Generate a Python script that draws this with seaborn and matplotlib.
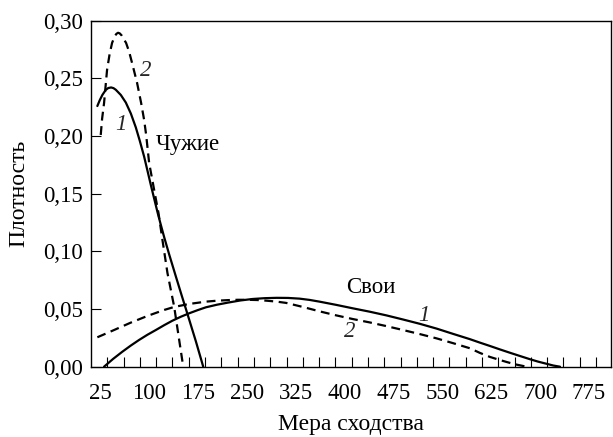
import numpy as np
import pandas as pd
import matplotlib
matplotlib.use("Agg")
import matplotlib.pyplot as plt
import seaborn as sns
from matplotlib.transforms import ScaledTranslation

# ---- data ----
# "Чужие" curve 1 (solid)
alien1_x = [9.7, 13.5, 17.4, 22.6, 26.5, 30.8, 34.5, 38.0, 45.7, 53.4, 61.1, 68.7, 75.0,
            81.5, 87.0, 91.8, 97.0, 102.0, 107.0, 112.3, 120.0, 130.2, 139.0, 148.1,
            161.0, 172.2]
alien1_y = [0.2260, 0.2312, 0.2356, 0.2400, 0.2416, 0.2421, 0.2415, 0.2401, 0.2356,
            0.2290, 0.2195, 0.2075, 0.1955, 0.1821, 0.1690, 0.1575, 0.1455, 0.1340,
            0.1232, 0.1122, 0.0972, 0.0782, 0.0620, 0.0455, 0.0218, 0.0]
# "Чужие" curve 2 (dashed)
alien2_x = [14.9, 17.0, 20.0, 24.6, 28.5, 32.3, 36.5, 39.0, 41.5, 44.0, 47.0, 53.8,
            58.5, 63.0, 70.7, 76.9, 81.5, 84.6, 89.2, 96.9, 103.5, 109.6, 117.3,
            127.6, 135.3, 141.5]
alien2_y = [0.2009, 0.2150, 0.2286, 0.2573, 0.2710, 0.2807, 0.2866, 0.2886, 0.2895,
            0.2890, 0.2872, 0.2807, 0.2730, 0.2633, 0.2460, 0.2286, 0.2139, 0.2009,
            0.1766, 0.1532, 0.1333, 0.1099, 0.0812, 0.0520, 0.0231, 0.0]
# "Свои" curve 1 (solid)
own1_x = [20.0, 34.0, 48.1, 61.0, 73.8, 86.6, 99.5, 112.3, 125.0, 137.8, 150.7, 163.5,
          176.4, 193.0, 209.6, 229.0, 248.0, 266.5, 285.0, 302.5, 320.0, 335.3, 350.6,
          376.2, 401.8, 427.5, 453.1, 478.2, 504.4, 530.5, 555.9, 581.3, 596.6, 612.0,
          627.4, 642.8, 658.1, 673.5, 686.0, 699.2, 709.5, 719.7]
own1_y = [0.0, 0.0068, 0.0130, 0.0183, 0.0232, 0.0277, 0.0318, 0.0360, 0.0399, 0.0433,
          0.0463, 0.0490, 0.0515, 0.0537, 0.0555, 0.0574, 0.0587, 0.0594, 0.0597,
          0.0596, 0.0590, 0.0579, 0.0564, 0.0536, 0.0506, 0.0477, 0.0445, 0.0410,
          0.0372, 0.0330, 0.0284, 0.0239, 0.0209, 0.0180, 0.0150, 0.0121, 0.0093,
          0.0065, 0.0044, 0.0025, 0.0010, 0.0]
# "Свои" curve 2 (dashed)
own2_x = [9.7, 35.4, 61.0, 86.6, 112.3, 127.6, 150.7, 176.4, 193.0, 209.6, 225.0,
          240.0, 255.0, 270.0, 285.0, 299.4, 325.0, 350.6, 376.2, 401.8, 427.5, 453.1,
          478.7, 504.4, 530.0, 555.6, 581.3, 596.6, 612.0, 625.0, 637.7, 650.5, 663.2,
          669.0]
own2_y = [0.0255, 0.0318, 0.0382, 0.0440, 0.0492, 0.0518, 0.0544, 0.0564, 0.0572,
          0.0577, 0.0580, 0.0580, 0.0578, 0.0572, 0.0564, 0.0553, 0.0518, 0.0480,
          0.0445, 0.0413, 0.0384, 0.0352, 0.0318, 0.0283, 0.0246, 0.0204, 0.0160,
          0.0120, 0.0085, 0.0062, 0.0041, 0.0021, 0.0006, 0.0]

xtick_values = [25, 100, 175, 250, 325, 400, 475, 550, 625, 700, 775]
ytick_values = [0.00, 0.05, 0.10, 0.15, 0.20, 0.25, 0.30]
ytick_labels = ["0,00", "0,05", "0,10", "0,15", "0,20", "0,25", "0,30"]

# ---- style ----
sns.set_theme(style="white")
plt.rcParams["font.family"] = ["Liberation Serif", "DejaVu Serif"]
FS = 16.5
plt.rcParams["font.size"] = FS

fig = plt.figure(figsize=(6.13, 4.37), dpi=100)
ax = fig.add_axes([0.1485, 0.1609, 0.8478, 0.7918])

lw = 1.6
sns.lineplot(x=alien1_x, y=alien1_y, ax=ax, color="black", lw=lw,
             estimator=None, sort=False)
sns.lineplot(x=alien2_x, y=alien2_y, ax=ax, color="black", lw=lw,
             estimator=None, sort=False, dashes=(4, 2.5))
sns.lineplot(x=own1_x, y=own1_y, ax=ax, color="black", lw=lw,
             estimator=None, sort=False)
sns.lineplot(x=own2_x, y=own2_y, ax=ax, color="black", lw=lw,
             estimator=None, sort=False, dashes=(4, 2.5))

ax.set_xlim(0, 797.6)
ax.set_ylim(0, 0.30)

# ticks: every 25 on x, labels every 75
all_xticks = list(range(25, 800, 25))
ax.set_xticks(all_xticks)
ax.set_xticklabels([str(v) if v in xtick_values else "" for v in all_xticks])
ax.set_yticks(ytick_values)
ax.set_yticklabels(ytick_labels)
ax.tick_params(axis="both", direction="in", length=7.2, width=0.8,
               color="black", labelsize=FS, labelcolor="black",
               bottom=True, left=True, top=False, right=False)
ax.tick_params(axis="x", pad=12.0)
ax.tick_params(axis="y", pad=6.0)
for lbl in ax.get_xticklabels():
    lbl.set_transform(lbl.get_transform() +
                      ScaledTranslation(-0.07, 0, fig.dpi_scale_trans))

for s in ax.spines.values():
    s.set_visible(True)
    s.set_color("black")
    s.set_linewidth(1.0)

ax.set_xlabel("Мера сходства", fontsize=17, color="black")
ax.set_ylabel("Плотность", fontsize=17, color="black")
ax.xaxis.set_label_coords(0.5, -0.137)
ax.yaxis.set_label_coords(-0.118, 0.5)
ax.xaxis.label.set_va("top")

# annotations
ax.text(99.4, 0.193, "Чужие", fontsize=FS, ha="left", va="center", color="black")
ax.text(391.6, 0.0689, "Свои", fontsize=FS, ha="left", va="center", color="black")
ax.text(45.7, 0.2104, "1", fontsize=FS, style="italic", ha="center", va="center")
ax.text(84.6, 0.2564, "2", fontsize=FS, style="italic", ha="center", va="center")
ax.text(510.6, 0.0448, "1", fontsize=FS, style="italic", ha="center", va="center")
ax.text(397.5, 0.0303, "2", fontsize=FS, style="italic", ha="center", va="center")

fig.savefig("out.png", dpi=100)
